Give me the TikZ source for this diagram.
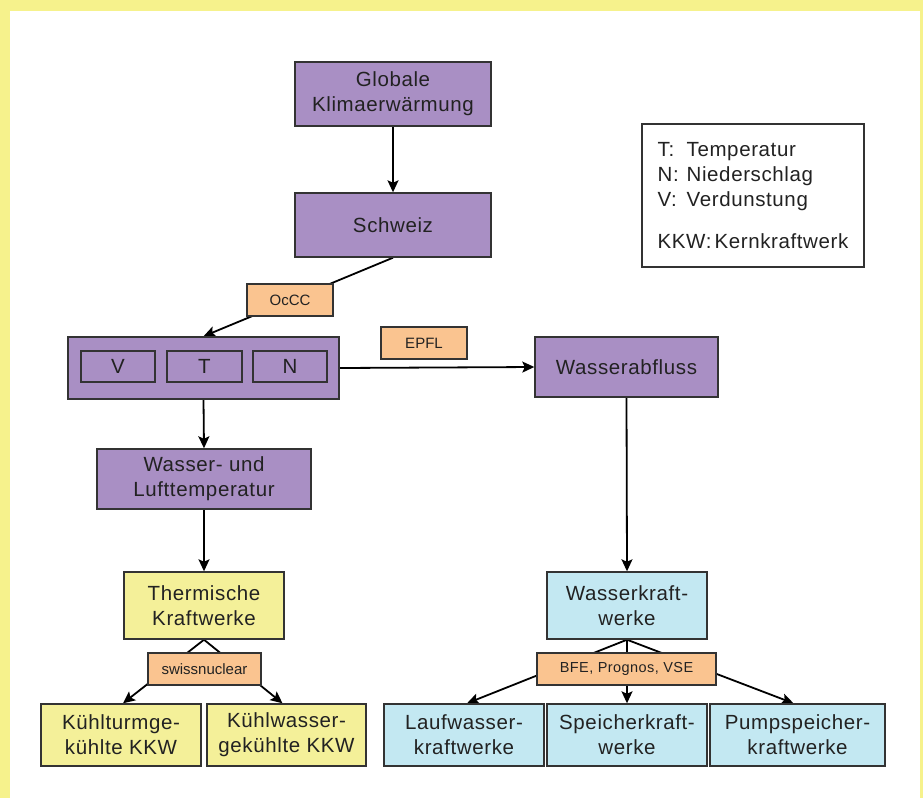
\documentclass[tikz,border=0pt]{standalone}
\usepackage{fontspec}
\setmainfont{Liberation Sans}
\newfontfamily\mainf[LetterSpace=3]{Liberation Sans}
\newfontfamily\smallf{Liberation Sans}
\usetikzlibrary{arrows.meta}
\pgfdeclarelayer{bg}\pgfdeclarelayer{edges}
\pgfsetlayers{bg,edges,main}
\definecolor{bordery}{HTML}{F6F28C}
\definecolor{purp}{HTML}{A98FC4}
\definecolor{orng}{HTML}{FAC490}
\definecolor{paley}{HTML}{F4F099}
\definecolor{lblue}{HTML}{C3E8F2}
\definecolor{boxline}{HTML}{333333}
\definecolor{txt}{HTML}{222222}
\tikzset{
  basebox/.style={draw=boxline, line width=1.4pt, inner sep=0pt, align=center, text=txt,
    font=\mainf\fontsize{20.5}{25}\selectfont},
  pbox/.style={basebox, fill=purp},
  ybox/.style={basebox, fill=paley},
  bbox/.style={basebox, fill=lblue},
  obox/.style={draw=boxline, line width=1.4pt, inner sep=0pt, fill=orng, text=txt,
    minimum height=32pt, font=\smallf\fontsize{15}{18}\selectfont},
  conn/.style={draw=black, line width=1.8pt, -{Stealth[length=12pt,width=11pt,inset=2.5pt]}}
}
\begin{document}
\begin{tikzpicture}[x=1pt,y=-1pt]
\useasboundingbox (0,0) rectangle (923,798);
\begin{pgfonlayer}{bg}
\fill[bordery] (0,0) rectangle (923,798);
\fill[white] (10,11) rectangle (920,798);
\end{pgfonlayer}

\node[pbox, minimum width=196pt, minimum height=64pt] (glob) at (393,94) {Globale\\Klimaerwärmung};
\node[pbox, minimum width=196pt, minimum height=64pt] (schw) at (393,225) {Schweiz};
\node[obox, minimum width=86pt] (occc) at (290,300) {OcCC};
\node[pbox, minimum width=271pt, minimum height=62pt] (vtn) at (203.5,368) {};
\node[pbox, minimum width=74pt, minimum height=31pt] (v) at (118,366.5) {V};
\node[pbox, minimum width=75pt, minimum height=31pt] (t) at (204.5,366.5) {T};
\node[pbox, minimum width=74pt, minimum height=31pt] (n) at (290,366.5) {N};
\node[obox, minimum width=86pt] (epfl) at (424,343) {EPFL};
\node[pbox, minimum width=183pt, minimum height=60pt] (wab) at (626.5,367) {Wasserabfluss};
\node[basebox, fill=white, minimum width=222pt, minimum height=143pt, align=left] (leg) at (753,195.5)
  {\makebox[29pt][l]{T:}Temperatur\\ \makebox[29pt][l]{N:}Niederschlag\\ \makebox[29pt][l]{V:}Verdunstung\\[17pt] KKW:\hspace{3pt}Kernkraftwerk};
\node[pbox, minimum width=214pt, minimum height=60pt] (wl) at (204,479) {Wasser- und\\Lufttemperatur};
\node[ybox, minimum width=160pt, minimum height=67pt] (th) at (204,605.5) {Thermische\\Kraftwerke};
\node[obox, minimum width=113pt] (sn) at (204.5,669) {swissnuclear};
\node[ybox, minimum width=160pt, minimum height=62pt] (kt) at (121,735) {Kühlturmge-\\kühlte KKW};
\node[ybox, minimum width=159pt, minimum height=62pt] (kw) at (286.5,735) {Kühlwasser-\\gekühlte KKW};
\node[bbox, minimum width=160pt, minimum height=67pt] (wk) at (627,605.5) {Wasserkraft-\\werke};
\node[obox, minimum width=179pt, font=\mainf\fontsize{14.5}{17}\selectfont] (bfe) at (626.5,669) {BFE, Prognos, VSE};
\node[bbox, minimum width=160pt, minimum height=62pt] (lw) at (464,735) {Laufwasser-\\kraftwerke};
\node[bbox, minimum width=160pt, minimum height=62pt] (sp) at (627,735) {Speicherkraft-\\werke};
\node[bbox, minimum width=175pt, minimum height=62pt] (ps) at (797.5,735) {Pumpspeicher-\\kraftwerke};

\begin{pgfonlayer}{edges}
\draw[conn] (glob.south) -- (schw.north);
\draw[conn] (schw.south) -- (vtn.north);
\draw[conn] (vtn.east) -- (wab.west);
\draw[conn] (vtn.south) -- (wl.north);
\draw[conn] (wl.south) -- (th.north);
\draw[conn] (th.south) -- ([xshift=2pt]kt.north);
\draw[conn] (th.south) -- ([xshift=-4pt]kw.north);
\draw[conn] (wab.south) -- (wk.north);
\draw[conn] (wk.south) -- ([xshift=3pt]lw.north);
\draw[conn] (wk.south) -- (sp.north);
\draw[conn] (wk.south) -- ([xshift=-4pt]ps.north);
\end{pgfonlayer}
\end{tikzpicture}
\end{document}
